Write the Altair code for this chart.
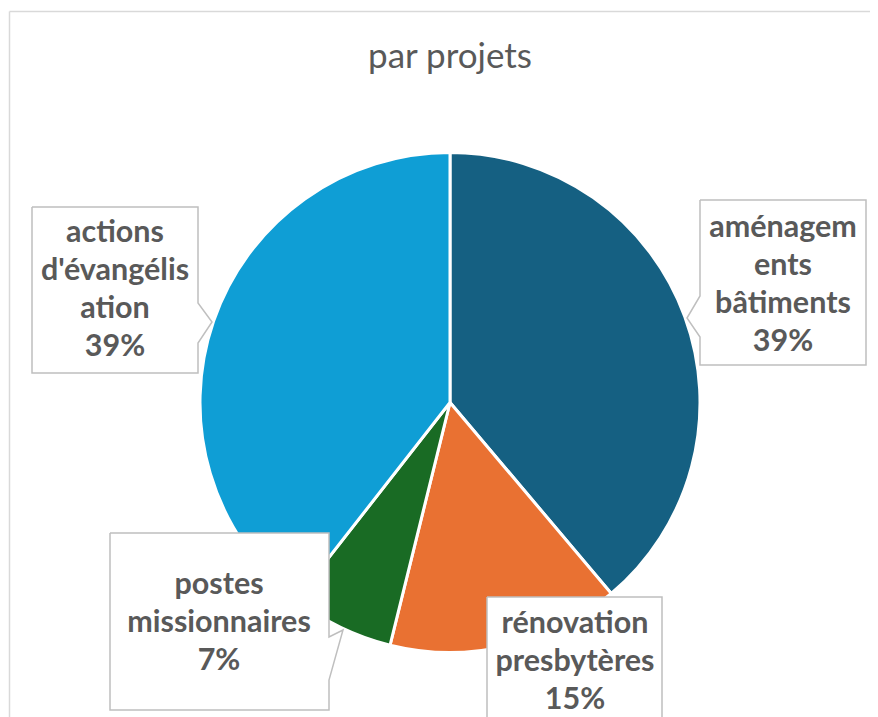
import altair as alt
import pandas as pd

# ---- data ----
categories = ["aménagements bâtiments", "rénovation presbytères",
              "postes missionnaires", "actions d'évangélisation"]
values = [38.8, 15.0, 6.7, 39.4]
colors = ["#156082", "#E97132", "#196B24", "#0F9ED5"]
label_lines = [["aménagem", "ents", "bâtiments"],
               ["rénovation", "presbytères"],
               ["postes", "missionnaires"],
               ["actions", "d'évangélis", "ation"]]
title_text = "par projets"

# ---- layout (page pixel coords; view origin is at 8,8) ----
OFF = 8
pie_cx, pie_cy, pie_r = 450, 402.5, 250
box_left = [700, 487, 110, 32]
box_top = [200, 597, 533, 207]
box_right = [866, 662, 329, 198]
box_bottom = [365, 760, 710, 373]
pointer_side = ["left", None, "right", "right"]
pointer_pts = [[(700, 337), (687, 318), (700, 296)],
               None,
               [(329, 637), (343, 630), (329, 680)],
               [(198, 303), (212, 322), (198, 343)]]
text_cx = [783, 575, 219, 115]
text_first_line = [228, 624, 585, 233]

total = sum(values)
pcts = [round(v / total * 100) for v in values]

pie_df = pd.DataFrame({"cat": categories, "val": values, "ord": range(len(values))})

box_df = pd.DataFrame({
    "x": [l - OFF for l in box_left], "x2": [r - OFF for r in box_right],
    "y": [t - OFF for t in box_top], "y2": [b - OFF for b in box_bottom],
})

poly_rows = []
for i in range(len(categories)):
    L, T, R, B = box_left[i], box_top[i], box_right[i], box_bottom[i]
    pts = [(L, T), (R, T)]
    if pointer_side[i] == "right":
        pts += pointer_pts[i]
    pts += [(R, B), (L, B)]
    if pointer_side[i] == "left":
        pts += pointer_pts[i]
    pts += [(L, T)]
    for k, (px, py) in enumerate(pts):
        poly_rows.append({"box": i, "k": k, "px": px - OFF, "py": py - OFF})
poly_df = pd.DataFrame(poly_rows)

text_df = pd.DataFrame({
    "label": ["\n".join(label_lines[i] + [f"{pcts[i]}%"]) for i in range(len(categories))],
    "tx": [x - OFF for x in text_cx],
    "ty": [y - OFF for y in text_first_line],
})

one = alt.Data(values=[{}])

frame_top = alt.Chart(one).mark_rule(color="#D9D9D9", strokeWidth=1.5).encode(
    x=alt.value(9.5 - OFF), x2=alt.value(880), y=alt.value(11.5 - OFF))
frame_left = alt.Chart(one).mark_rule(color="#D9D9D9", strokeWidth=1.5).encode(
    x=alt.value(9.5 - OFF), y=alt.value(11.5 - OFF), y2=alt.value(720))

pie = alt.Chart(pie_df).mark_arc(radius=pie_r, stroke="white", strokeWidth=3).encode(
    theta=alt.Theta("val:Q", stack=True),
    order=alt.Order("ord:Q"),
    color=alt.Color("cat:N", scale=alt.Scale(domain=categories, range=colors), legend=None),
    x=alt.value(pie_cx - OFF), y=alt.value(pie_cy - OFF),
)

rects = alt.Chart(box_df).mark_rect(fill="white").encode(
    x=alt.X("x:Q", scale=None), x2="x2:Q",
    y=alt.Y("y:Q", scale=None), y2="y2:Q",
)

outlines = alt.Chart(poly_df).mark_line(color="#BFBFBF", strokeWidth=1.5).encode(
    x=alt.X("px:Q", scale=None), y=alt.Y("py:Q", scale=None),
    detail="box:N", order="k:Q",
)

texts = alt.Chart(text_df).mark_text(
    font="Lato", fontWeight="bold", fontSize=30.5, color="#595959",
    lineBreak="\n", lineHeight=38, align="center", baseline="middle",
).encode(
    x=alt.X("tx:Q", scale=None), y=alt.Y("ty:Q", scale=None), text="label:N",
)

title = alt.Chart(alt.Data(values=[{"t": title_text}])).mark_text(
    font="Lato", fontSize=35, color="#595959", align="center", baseline="alphabetic",
).encode(x=alt.value(450 - OFF), y=alt.value(68 - OFF), text="t:N")

chart = alt.layer(frame_top, frame_left, pie, rects, outlines, texts, title).properties(
    width=862, height=709, autosize="none", padding=0,
).configure_view(stroke=None)

chart.save("out.html", embed_options={"renderer": "svg", "actions": False})
